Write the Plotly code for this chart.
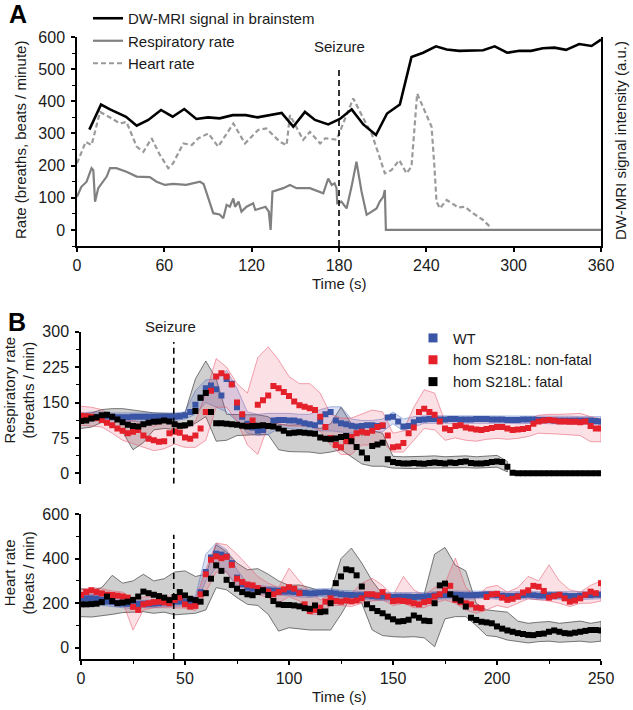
import plotly.graph_objects as go

# ---------------- Panel A data ----------------
a_mri_t = [8.5, 16.5, 22.7, 33.7, 41, 49, 57.7, 65.7, 73.7, 82, 90, 98, 107, 116, 124, 132, 140.6, 148.6,
           156.6, 163.5, 172.6, 180.6, 188.7, 196.7, 205.4, 213, 221.8, 229.8, 237.8, 246.6, 254, 262.6,
           271, 279, 287, 295.5, 304, 312, 320, 328, 336, 345, 353.5, 360]
a_mri_v = [312, 390, 375, 352, 324, 342, 373, 352, 376, 345, 350, 347, 357, 357, 350, 357, 364, 321,
           367, 342, 328, 345, 375, 328, 295, 362, 390, 538, 551, 571, 561, 557, 559, 559, 571, 551,
           557, 557, 565, 567, 560, 578, 572, 592]

a_resp_t = [0, 3, 6.6, 10, 11.2, 12.4, 14.6, 20.4, 22.7, 27, 34, 41, 50, 54.7, 60.4, 66, 75, 84.5, 87,
            90, 93.6, 98, 100.5, 102.8, 105, 107.4, 108.6, 111, 113, 116.5, 121, 122.5, 126, 129.5,
            131.8, 133, 134.3, 141.7, 146.3, 150.8, 160, 165.8, 169.2, 172.6, 175, 177, 178.3, 178.8,
            181.6, 185.2, 188.6, 192, 195.5, 199, 202.4, 205.8, 208, 210.4, 211.5, 212.2, 360]
a_resp_v = [103, 134, 150, 192, 186, 88, 130, 166, 192, 192, 181, 166, 164, 150, 140, 143, 140, 150, 143,
            103, 52, 48, 36, 78, 72, 98, 72, 88, 57, 72, 83, 62, 67, 72,
            57, 0, 119, 130, 140, 130, 130, 119, 114, 160, 140, 145, 130, 83,
            88, 67, 134, 212, 119, 47, 57, 67, 88, 103, 124, 0, 0]

a_hr_t = [0, 6, 10, 15.8, 23.8, 29.5, 34, 41, 45.6, 51.3, 56.6, 62.7, 66, 73, 78.8, 83.4, 90.2, 97,
          107.4, 115.4, 124.5, 130, 139.4, 144, 146.3, 155.4, 160, 167, 170.6, 178.3, 181, 189.8,
          196.7, 202.4, 207, 211.5, 216, 221.4, 226.4, 229.8, 233.7, 237.8, 243.6, 245.5, 247, 249.3,
          254, 262, 266.5, 272, 279, 284.8]
a_hr_v = [207, 274, 264, 367, 347, 331, 336, 259, 243, 285, 236, 192, 207, 269, 264, 285, 300, 259,
          331, 269, 311, 316, 274, 264, 357, 280, 305, 269, 285, 281, 310, 409,
          347, 300, 238, 176, 186, 217, 176, 197, 424, 383, 321, 200, 88, 67,
          93, 70, 72, 52, 31, 5]

seizure_a = 180
a_xticks = [0, 60, 120, 180, 240, 300, 360]
a_yticks = [0, 100, 200, 300, 400, 500, 600]

# ---------------- Panel B data ----------------
b_t = [k * 2.5 for k in range(101)]      # sampling times (s)
b_band_t = [k * 5 for k in range(51)]     # band sampling times (s)
b_band_t_fatal_resp = [k * 5 for k in range(42)]

resp_wt = [117, 118, 119, 120, 121, 121, 120, 119, 119, 119,
           120, 120, 120, 120, 120, 120, 120, 120, 120, 121,
           123, 130, 145, 160, 180, 186, 178, 165, 200, 190,
           140, 120, 105, 97, 90, 92, 100, 112, 113, 113,
           112, 112, 110, 106, 104, 102, 110, 125, 130, 112,
           106, 104, 101, 99, 100, 102, 102, 100, 100, 118,
           120, 110, 99, 100, 108, 113, 114, 115, 115, 114,
           114, 115, 115, 114, 114, 114, 115, 115, 115, 114,
           114, 114, 113, 113, 113, 114, 114, 114, 113, 113,
           113, 112, 112, 112, 112, 112, 112, 112, 112, 111,
           110]
resp_nf = [122, 121, 120, 117, 113, 107, 102, 95, 90, 85,
           88, 92, 80, 73, 70, 67, 68, 85, 88, 86,
           76, 73, 80, 95, 130, 175, 205, 212, 205, 188,
           150, 125, 100, 112, 145, 155, 165, 185, 180, 172,
           164, 152, 144, 141, 138, 134, 120, 98, 75, 60,
           55, 68, 77, 85, 88, 86, 90, 98, 102, 80,
           55, 57, 64, 85, 97, 130, 137, 130, 124, 110,
           95, 92, 100, 102, 97, 95, 93, 92, 94, 96,
           98, 98, 95, 92, 93, 94, 96, 105, 110, 112,
           113, 112, 110, 110, 109, 109, 108, 110, 100, 95,
           95]
resp_fatal = [111, 112, 116, 119, 123, 124, 120, 114, 108, 103,
              100, 99, 104, 107, 109, 110, 112, 110, 104, 101,
              102, 106, 132, 160, 170, 130, 106, 106, 105, 104,
              103, 101, 99, 100, 101, 102, 100, 99, 95, 90,
              85, 86, 87, 86, 85, 84, 76, 73, 72, 74,
              77, 79, 68, 56, 44, 32, 58, 61, 65, 30,
              24, 22, 21, 21, 22, 21, 20, 22, 23, 22,
              21, 23, 22, 24, 25, 22, 21, 21, 22, 24,
              25, 24, 14, 1, 0, 0, 0, 0, 0, 0,
              0, 0, 0, 0, 0, 0, 0, 0, 0, 0,
              0]

resp_wt_hi = [128, 130, 130, 128, 128, 128, 128, 128, 128, 128, 130, 175, 198, 200, 218,
              180, 130, 125, 127, 127, 127, 125, 125, 135, 141, 141, 115, 112, 112, 115,
              130, 115, 120, 122, 122, 122, 122, 121, 121, 122, 122, 121, 121, 122, 122,
              121, 121, 121, 120, 120, 120]
resp_wt_lo = [108, 110, 112, 112, 110, 110, 110, 112, 112, 112, 115, 125, 150, 140, 130,
              110, 85, 80, 82, 95, 95, 92, 88, 90, 90, 88, 85, 85, 88, 88,
              105, 90, 98, 106, 106, 106, 107, 107, 106, 106, 106, 106, 105, 105, 106,
              105, 104, 104, 104, 104, 102]
resp_nf_hi = [142, 140, 135, 120, 110, 112, 105, 100, 108, 110, 100, 110, 170, 243, 225,
              190, 170, 245, 268, 240, 205, 190, 190, 170, 125, 117, 117, 125, 134, 130,
              85, 90, 140, 177, 170, 110, 115, 110, 110, 110, 112, 110, 112, 115, 123,
              125, 125, 126, 127, 120, 115]
resp_nf_lo = [102, 100, 98, 85, 70, 62, 55, 48, 52, 62, 55, 55, 70, 140, 140,
              110, 60, 40, 102, 105, 100, 100, 100, 90, 60, 40, 40, 60, 60, 65,
              45, 45, 70, 95, 92, 70, 75, 70, 68, 72, 74, 72, 74, 78, 85,
              84, 83, 82, 80, 67, 67]
resp_fatal_hi = [125, 128, 135, 137, 137, 134, 130, 128, 127, 126, 128, 200, 238, 200, 125,
                 124, 124, 124, 120, 104, 102, 103, 100, 95, 105, 140, 105, 80, 90, 85,
                 36, 35, 35, 36, 37, 35, 36, 37, 35, 36, 38, 25]
resp_fatal_lo = [95, 98, 108, 100, 88, 50, 65, 92, 95, 93, 95, 106, 120, 68, 70,
                 80, 81, 82, 82, 50, 46, 46, 45, 42, 45, 50, 35, 20, 15, 15,
                 11, 11, 10, 11, 12, 11, 12, 12, 11, 12, 13, 3]

hr_wt = [222, 222, 222, 220, 215, 207, 205, 200, 198, 197,
         196, 197, 198, 197, 198, 200, 204, 206, 207, 207,
         206, 207, 208, 250, 340, 405, 422, 418, 410, 380,
         315, 285, 270, 265, 260, 258, 258, 257, 255, 252,
         252, 250, 248, 246, 244, 245, 248, 249, 247, 244,
         240, 238, 237, 236, 236, 235, 232, 230, 230, 230,
         229, 230, 230, 230, 228, 229, 230, 232, 235, 236,
         237, 238, 238, 237, 236, 236, 237, 238, 240, 238,
         236, 234, 232, 232, 234, 236, 238, 236, 234, 234,
         236, 236, 235, 234, 232, 232, 234, 236, 236, 238,
         238]
hr_nf = [237, 250, 258, 250, 244, 238, 237, 234, 230, 225,
         184, 170, 195, 200, 205, 207, 204, 200, 215, 225,
         195, 185, 188, 240, 330, 395, 410, 402, 408, 372,
         310, 295, 284, 280, 268, 260, 252, 240, 250, 262,
         272, 265, 245, 195, 165, 170, 180, 207, 222, 210,
         207, 212, 208, 212, 222, 240, 240, 235, 250, 230,
         210, 212, 210, 207, 200, 195, 205, 210, 230, 240,
         258, 278, 215, 205, 200, 195, 180, 178, 228, 240,
         242, 225, 215, 220, 230, 248, 258, 278, 274, 255,
         225, 232, 238, 222, 207, 212, 222, 238, 252, 245,
         290]
hr_fatal = [195, 195, 196, 198, 205, 230, 210, 200, 203, 207,
            215, 230, 252, 245, 238, 232, 225, 214, 228, 250,
            235, 220, 214, 207, 245, 310, 370, 345, 305, 282,
            265, 250, 240, 236, 250, 258, 237, 210, 195, 192,
            192, 190, 186, 178, 175, 190, 160, 163, 200, 290,
            320, 352, 348, 325, 275, 195, 178, 165, 155, 140,
            128, 118, 120, 126, 145, 135, 122, 120, 200, 280,
            288, 240, 222, 212, 185, 135, 125, 117, 114, 110,
            96, 86, 78, 72, 66, 62, 58, 57, 62, 64,
            72, 78, 72, 66, 64, 68, 72, 76, 80, 80,
            78]

hr_wt_hi = [240, 240, 232, 222, 215, 212, 212, 215, 222, 225, 225, 230, 420, 470, 440,
            350, 290, 280, 275, 272, 270, 266, 262, 265, 265, 258, 255, 255, 250, 248,
            248, 248, 246, 248, 252, 254, 255, 254, 255, 256, 254, 250, 252, 255, 252,
            252, 252, 250, 252, 254, 254]
hr_wt_lo = [205, 205, 190, 185, 180, 175, 180, 180, 185, 188, 188, 190, 300, 360, 340,
            270, 250, 242, 238, 236, 234, 228, 226, 230, 228, 222, 220, 218, 214, 212,
            210, 212, 210, 212, 216, 220, 220, 218, 220, 222, 218, 214, 216, 220, 216,
            218, 218, 214, 216, 218, 220]
hr_nf_hi = [262, 270, 265, 255, 250, 220, 228, 230, 228, 235, 240, 215, 350, 470, 462,
            420, 372, 320, 290, 270, 357, 300, 250, 215, 240, 250, 245, 290, 312, 280,
            235, 320, 260, 235, 270, 290, 402, 270, 230, 270, 280, 250, 270, 320, 300,
            372, 300, 260, 250, 280, 300]
hr_nf_lo = [215, 235, 222, 215, 205, 80, 170, 180, 180, 180, 178, 168, 250, 340, 340,
            280, 260, 240, 225, 200, 230, 210, 150, 150, 190, 190, 185, 200, 210, 215,
            190, 200, 180, 180, 200, 215, 200, 170, 155, 170, 190, 180, 200, 220, 215,
            210, 200, 185, 200, 200, 210]
hr_fatal_hi = [265, 260, 270, 325, 290, 300, 330, 300, 310, 340, 345, 320, 330, 462, 430,
               380, 350, 355, 330, 300, 280, 282, 270, 255, 250, 400, 447, 380, 300, 240,
               237, 235, 240, 240, 420, 450, 370, 345, 200, 170, 165, 160, 120, 110, 115,
               118, 110, 115, 120, 110, 118]
hr_fatal_lo = [140, 138, 145, 150, 158, 160, 162, 155, 160, 148, 150, 155, 170, 270, 260,
               225, 195, 190, 150, 75, 90, 85, 80, 80, 80, 150, 230, 200, 80, 55,
               50, 48, 50, 45, 5, 130, 140, 140, 100, 55, 50, 35, 30, 22, 28,
               30, 25, 28, 30, 25, 30]

seizure_b = 44.6
b_xticks = [0, 50, 100, 150, 200, 250]
resp_yticks = [0, 75, 150, 225, 300]
hr_yticks = [0, 200, 400, 600]

# ---------------- styling ----------------
W, H = 633, 710
FONT = "Liberation Sans, Arial, sans-serif"
C_WT, C_NF, C_F = "#3b55a6", "#e4212b", "#000000"


def px_x(p):
    return p / W


def px_y(p):
    return 1 - p / H


fig = go.Figure()

# Panel A traces
fig.add_trace(go.Scatter(x=a_resp_t, y=a_resp_v, mode="lines", xaxis="x", yaxis="y",
                         line=dict(color="#808080", width=2.2), showlegend=False))
fig.add_trace(go.Scatter(x=a_hr_t, y=a_hr_v, mode="lines", xaxis="x", yaxis="y",
                         line=dict(color="#9a9a9a", width=2.2, dash="5px,3px"), showlegend=False))
fig.add_trace(go.Scatter(x=a_mri_t, y=a_mri_v, mode="lines", xaxis="x", yaxis="y",
                         line=dict(color="black", width=2.6), showlegend=False))
# Panel A legend entries
fig.add_trace(go.Scatter(x=[None], y=[None], mode="lines", name="DW-MRI signal in brainstem",
                         line=dict(color="black", width=2.6), legend="legend", xaxis="x", yaxis="y"))
fig.add_trace(go.Scatter(x=[None], y=[None], mode="lines", name="Respiratory rate",
                         line=dict(color="#808080", width=2.2), legend="legend", xaxis="x", yaxis="y"))
fig.add_trace(go.Scatter(x=[None], y=[None], mode="lines", name="Heart rate",
                         line=dict(color="#9a9a9a", width=2.2, dash="5px,3px"), legend="legend",
                         xaxis="x", yaxis="y"))


def band(t, lo, hi, fill, edge, xa, ya):
    return go.Scatter(x=list(t) + list(t)[::-1], y=list(hi) + list(lo)[::-1], mode="lines",
                      fill="toself", fillcolor=fill, line=dict(color=edge, width=0.8),
                      xaxis=xa, yaxis=ya, showlegend=False, hoverinfo="skip")


def pts(t, v, color, xa, ya):
    return go.Scatter(x=t, y=v, mode="markers", xaxis=xa, yaxis=ya, showlegend=False,
                      marker=dict(symbol="square", size=6, color=color, line=dict(width=0)))


F_FILL, F_EDGE = "rgba(70,70,70,0.26)", "rgba(70,70,70,0.9)"
W_FILL, W_EDGE = "rgba(70,100,190,0.2)", "rgba(70,100,190,0.55)"
N_FILL, N_EDGE = "rgba(230,60,100,0.16)", "rgba(230,80,100,0.65)"

# Respiratory panel
fig.add_trace(band(b_band_t_fatal_resp, resp_fatal_lo, resp_fatal_hi, F_FILL, F_EDGE, "x2", "y2"))
fig.add_trace(band(b_band_t, resp_wt_lo, resp_wt_hi, W_FILL, W_EDGE, "x2", "y2"))
fig.add_trace(band(b_band_t, resp_nf_lo, resp_nf_hi, N_FILL, N_EDGE, "x2", "y2"))
fig.add_trace(pts(b_t, resp_wt, C_WT, "x2", "y2"))
fig.add_trace(pts(b_t, resp_nf, C_NF, "x2", "y2"))
fig.add_trace(pts(b_t, resp_fatal, C_F, "x2", "y2"))

# Heart panel
fig.add_trace(band(b_band_t, hr_fatal_lo, hr_fatal_hi, F_FILL, F_EDGE, "x3", "y3"))
fig.add_trace(band(b_band_t, hr_wt_lo, hr_wt_hi, W_FILL, W_EDGE, "x3", "y3"))
fig.add_trace(band(b_band_t, hr_nf_lo, hr_nf_hi, N_FILL, N_EDGE, "x3", "y3"))
fig.add_trace(pts(b_t, hr_wt, C_WT, "x3", "y3"))
fig.add_trace(pts(b_t, hr_nf, C_NF, "x3", "y3"))
fig.add_trace(pts(b_t, hr_fatal, C_F, "x3", "y3"))

# Panel B legend entries
for nm, c in [("WT", C_WT), ("hom S218L: non-fatal", C_NF), ("hom S218L: fatal", C_F)]:
    fig.add_trace(go.Scatter(x=[None], y=[None], mode="markers", name=nm, legend="legend2",
                             marker=dict(symbol="square", size=9, color=c), xaxis="x2", yaxis="y2"))

axis_common = dict(showline=True, linecolor="black", linewidth=1.5, ticks="outside", ticklen=4,
                   tickwidth=1.5, tickcolor="black", showgrid=False, zeroline=False,
                   automargin=False, tickfont=dict(size=16, color="#1a1a1a", family=FONT))

fig.update_layout(
    width=W, height=H, margin=dict(l=0, r=0, t=0, b=0),
    template="none", paper_bgcolor="white", plot_bgcolor="rgba(0,0,0,0)",
    font=dict(family=FONT, color="#1a1a1a"),
    xaxis=dict(axis_common, domain=[px_x(77), px_x(601)], range=[0, 360], tickvals=a_xticks,
               anchor="y"),
    yaxis=dict(axis_common, domain=[px_y(246), px_y(37)], range=[-50, 600], tickvals=a_yticks,
               anchor="x", mirror=True, ticklabelstandoff=3,
               minor=dict(dtick=50, tick0=0, ticks="outside", ticklen=3, tickwidth=1.2,
                          tickcolor="black")),
    xaxis2=dict(domain=[px_x(81), px_x(601)], range=[0, 250], anchor="y2", visible=False),
    yaxis2=dict(axis_common, domain=[px_y(483.7), px_y(331.7)], range=[-22, 300],
                tickvals=resp_yticks, anchor="x2", ticklabelstandoff=3,
                minor=dict(dtick=37.5, tick0=0, ticks="outside", ticklen=3, tickwidth=1.2,
                           tickcolor="black")),
    xaxis3=dict(axis_common, domain=[px_x(81), px_x(601)], range=[0, 250], tickvals=b_xticks,
                anchor="y3",
                minor=dict(dtick=25, tick0=0, ticks="outside", ticklen=3, tickwidth=1.2,
                           tickcolor="black")),
    yaxis3=dict(axis_common, domain=[px_y(659), px_y(514)], range=[-50, 600], tickvals=hr_yticks,
                anchor="x3", ticklabelstandoff=3,
                minor=dict(dtick=100, tick0=0, ticks="outside", ticklen=3, tickwidth=1.2,
                           tickcolor="black")),
    legend=dict(x=px_x(88), y=px_y(2), xanchor="left", yanchor="top", bgcolor="rgba(0,0,0,0)",
                font=dict(size=15, family=FONT, color="#1a1a1a"), tracegroupgap=0),
    legend2=dict(x=px_x(413), y=px_y(322), xanchor="left", yanchor="top",
                 bgcolor="rgba(0,0,0,0)", font=dict(size=14.5, family=FONT, color="#1a1a1a"),
                 tracegroupgap=0),
)

# Seizure markers
dash_line = dict(color="black", width=1.6, dash="6px,4px")
fig.add_shape(type="line", xref="x", yref="y", x0=seizure_a, x1=seizure_a, y0=-50, y1=510,
              line=dash_line)
fig.add_shape(type="line", xref="x2", yref="y2", x0=seizure_b, x1=seizure_b, y0=-22, y1=278,
              line=dash_line)
fig.add_shape(type="line", xref="x3", yref="y3", x0=seizure_b, x1=seizure_b, y0=-50, y1=507,
              line=dash_line)


def ann(text, x, y, size=15, angle=0, bold=False, xanchor="center"):
    fig.add_annotation(text=f"<b>{text}</b>" if bold else text, x=px_x(x), y=px_y(y),
                       xref="paper", yref="paper", showarrow=False, textangle=angle,
                       xanchor=xanchor, yanchor="middle",
                       font=dict(size=size, family=FONT, color="black" if bold else "#1a1a1a"))


ann("A", 17.5, 14, size=25, bold=True)
ann("B", 17, 322, size=25, bold=True)
ann("Seizure", 339, 46.5)
ann("Seizure", 170, 326)
ann("Rate (breaths, beats / minute)", 21, 140, angle=-90)
ann("DW-MRI signal intensity (a.u.)", 621, 141, angle=-90)
ann("Time (s)", 339, 283)
ann("Time (s)", 339, 696)
ann("Respiratory rate<br>(breaths / min)", 18.5, 390, angle=-90)
ann("Heart rate<br>(beats / min)", 18.5, 573, angle=-90)

fig.write_html("out.html", config={"displayModeBar": False},
               post_script="document.body.style.margin='0px';document.body.style.overflow='hidden';")
